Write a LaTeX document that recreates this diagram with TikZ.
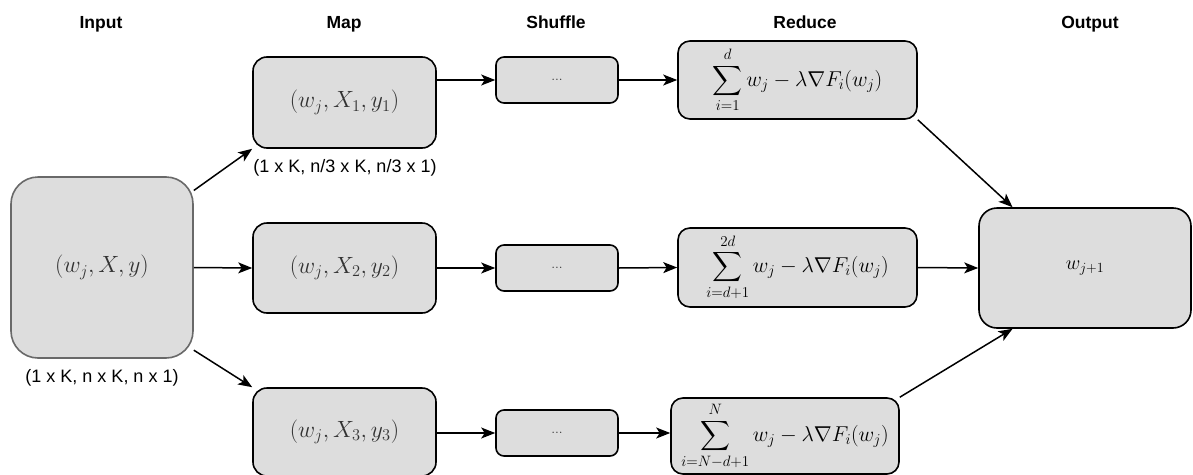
\RequirePackage{fix-cm}
\documentclass[tikz,border=0pt]{standalone}
\usepackage{amsmath}
\usepackage{fontspec}
\setmainfont{Liberation Sans}
\usetikzlibrary{arrows.meta}

\definecolor{boxfill}{RGB}{221,221,221}
\definecolor{softtext}{RGB}{50,50,50}
\definecolor{softline}{RGB}{105,105,105}

\tikzstyle{bloc} = [rectangle, draw=black, fill=boxfill, line width=1.6pt, inner sep=0pt, text centered, font=\fontsize{21.5}{26}\selectfont]
\tikzstyle{gros} = [font=\fontsize{23.5}{28}\selectfont]
\tikzstyle{entete} = [anchor=base, font=\fontsize{17.5}{20}\selectfont\bfseries]
\tikzstyle{dim} = [anchor=base, font=\fontsize{18}{21}\selectfont]
\tikzstyle{fleche} = [-{Stealth[length=14pt, width=11pt, inset=3.5pt]}, line width=1.5pt]

\begin{document}
\begin{tikzpicture}[x=1pt, y=-1pt]
        \useasboundingbox (0,0) rectangle (1193,474);

        % column titles
        \node (tinput) [entete] at (101,28) {Input};
        \node (tmap) [entete] at (344,28) {Map};
        \node (tshuffle) [entete] at (556,28) {Shuffle};
        \node (treduce) [entete] at (805,28) {Reduce};
        \node (toutput) [entete] at (1090,28) {Output};

        \node (input) [bloc, gros, draw=softline, text=softtext, minimum width=182pt, minimum height=181pt, rounded corners=27pt] at (102,267.5) {$(w_j, X, y)$};

        \node (map1) [bloc, gros, text=softtext, minimum width=183pt, minimum height=91pt, rounded corners=14pt] at (344.5,102.5) {$(w_j, X_1, y_1)$};
        \node (map2) [bloc, gros, text=softtext, minimum width=183pt, minimum height=90pt, rounded corners=14pt] at (344.5,268) {$(w_j, X_2, y_2)$};
        \node (map3) [bloc, gros, text=softtext, minimum width=183pt, minimum height=88pt, rounded corners=14pt] at (344.5,432) {$(w_j, X_3, y_3)$};

        \node (shuf1) [bloc, text=softtext, minimum width=122pt, minimum height=46pt, rounded corners=8pt, font=\fontsize{14}{16}\selectfont] at (557,80) {$...$};
        \node (shuf2) [bloc, text=softtext, minimum width=122pt, minimum height=46pt, rounded corners=8pt, font=\fontsize{14}{16}\selectfont] at (557,268) {$...$};
        \node (shuf3) [bloc, text=softtext, minimum width=122pt, minimum height=46pt, rounded corners=8pt, font=\fontsize{14}{16}\selectfont] at (557,433) {$...$};

        \node (red1) [bloc, minimum width=239pt, minimum height=78pt, rounded corners=12pt] at (797.5,80) {$\displaystyle\sum_{i=1}^{d} w_j - \lambda\nabla F_i(w_j)$};
        \node (red2) [bloc, minimum width=239pt, minimum height=79pt, rounded corners=12pt] at (797.5,267.5) {$\displaystyle\sum_{i=d+1}^{2d} w_j - \lambda\nabla F_i(w_j)$};
        \node (red3) [bloc, minimum width=228pt, minimum height=76pt, rounded corners=12pt] at (785,436) {$\displaystyle\sum_{i=N-d+1}^{N} w_j - \lambda\nabla F_i(w_j)$};

        \node (output) [bloc, minimum width=212pt, minimum height=120pt, rounded corners=18pt, font=\fontsize{20}{24}\selectfont] at (1085,268) {$w_{j+1}$};

        % sizes
        \node (dinput) [dim] at (102,382) {(1 x K, n x K, n x 1)};
        \node (dmap1) [dim] at (345,172) {(1 x K, n/3 x K, n/3 x 1)};

        \draw[fleche] (input.40.4) -- (map1.south west);
        \draw[fleche] (input.east) -- (map2.west);
        \draw[fleche] (input.-42.9) -- (map3.north west);

        \draw[fleche] (map1.east |- shuf1.west) -- (shuf1.west);
        \draw[fleche] (map2.east) -- (shuf2.west);
        \draw[fleche] (map3.east |- shuf3.west) -- (shuf3.west);

        \draw[fleche] (shuf1.east) -- (red1.west);
        \draw[fleche] (shuf2.east) -- (red2.west);
        \draw[fleche] (shuf3.east) -- (red3.west |- shuf3.east);

        \draw[fleche] (red1.south east) -- (output.140.2);
        \draw[fleche] (red2.east) -- (output.west);
        \draw[fleche] (red3.north east) -- (output.-140.2);

    \end{tikzpicture}
\end{document}
